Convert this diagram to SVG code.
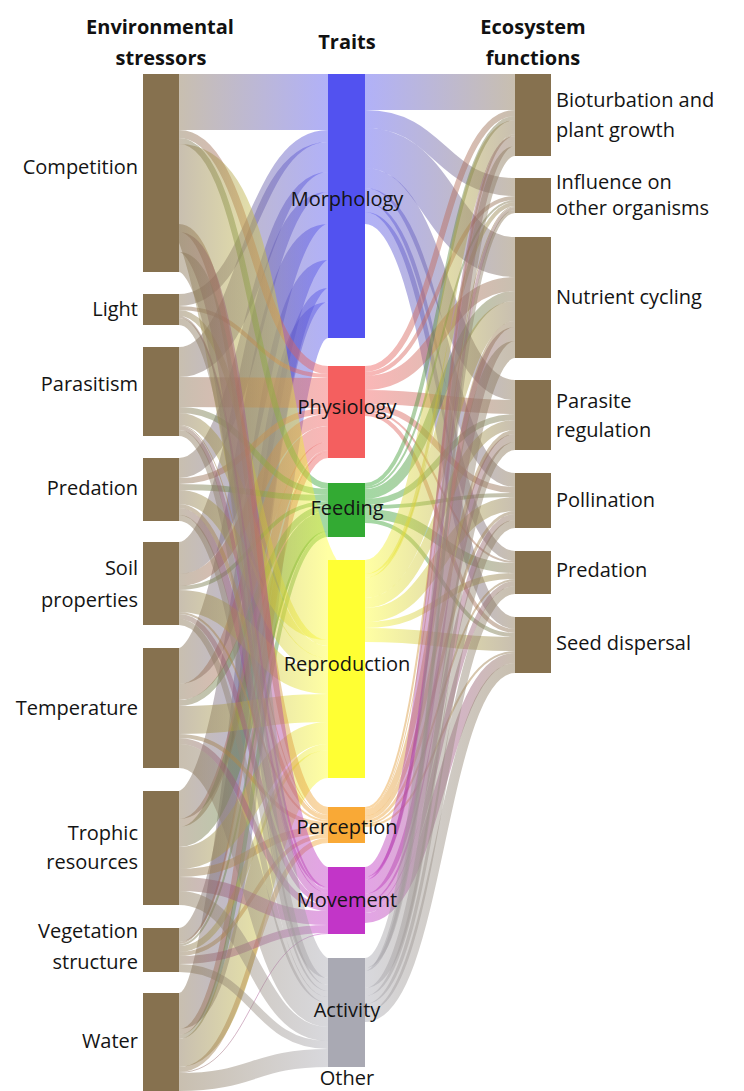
<svg xmlns="http://www.w3.org/2000/svg" width="744" height="1091" viewBox="0 0 744 1091">
<style>
.lk path{fill:none;stroke-opacity:.45}
.n{fill:#86714f}
text{font-family:"Open Sans","Liberation Sans",sans-serif;font-size:20px;fill:#141414}
.h{font-weight:bold;text-anchor:middle;fill:#111}
.le{text-anchor:end}
.m{text-anchor:middle}
</style>
<defs>
<linearGradient id="lM" gradientUnits="userSpaceOnUse" x1="179" y1="0" x2="328" y2="0"><stop offset="0" stop-color="#86714f"/><stop offset="1" stop-color="#5252f0"/></linearGradient>
<linearGradient id="lP" gradientUnits="userSpaceOnUse" x1="179" y1="0" x2="328" y2="0"><stop offset="0" stop-color="#86714f"/><stop offset="1" stop-color="#f45f5f"/></linearGradient>
<linearGradient id="lF" gradientUnits="userSpaceOnUse" x1="179" y1="0" x2="328" y2="0"><stop offset="0" stop-color="#86714f"/><stop offset="1" stop-color="#33aa33"/></linearGradient>
<linearGradient id="lR" gradientUnits="userSpaceOnUse" x1="179" y1="0" x2="328" y2="0"><stop offset="0" stop-color="#86714f"/><stop offset="1" stop-color="#ffff33"/></linearGradient>
<linearGradient id="lPe" gradientUnits="userSpaceOnUse" x1="179" y1="0" x2="328" y2="0"><stop offset="0" stop-color="#86714f"/><stop offset="1" stop-color="#f9a936"/></linearGradient>
<linearGradient id="lMv" gradientUnits="userSpaceOnUse" x1="179" y1="0" x2="328" y2="0"><stop offset="0" stop-color="#86714f"/><stop offset="1" stop-color="#c235c8"/></linearGradient>
<linearGradient id="lA" gradientUnits="userSpaceOnUse" x1="179" y1="0" x2="328" y2="0"><stop offset="0" stop-color="#86714f"/><stop offset="1" stop-color="#a9a9b3"/></linearGradient>
<linearGradient id="rM" gradientUnits="userSpaceOnUse" x1="365" y1="0" x2="515" y2="0"><stop offset="0" stop-color="#5252f0"/><stop offset="1" stop-color="#86714f"/></linearGradient>
<linearGradient id="rP" gradientUnits="userSpaceOnUse" x1="365" y1="0" x2="515" y2="0"><stop offset="0" stop-color="#f45f5f"/><stop offset="1" stop-color="#86714f"/></linearGradient>
<linearGradient id="rF" gradientUnits="userSpaceOnUse" x1="365" y1="0" x2="515" y2="0"><stop offset="0" stop-color="#33aa33"/><stop offset="1" stop-color="#86714f"/></linearGradient>
<linearGradient id="rR" gradientUnits="userSpaceOnUse" x1="365" y1="0" x2="515" y2="0"><stop offset="0" stop-color="#ffff33"/><stop offset="1" stop-color="#86714f"/></linearGradient>
<linearGradient id="rPe" gradientUnits="userSpaceOnUse" x1="365" y1="0" x2="515" y2="0"><stop offset="0" stop-color="#f9a936"/><stop offset="1" stop-color="#86714f"/></linearGradient>
<linearGradient id="rMv" gradientUnits="userSpaceOnUse" x1="365" y1="0" x2="515" y2="0"><stop offset="0" stop-color="#c235c8"/><stop offset="1" stop-color="#86714f"/></linearGradient>
<linearGradient id="rA" gradientUnits="userSpaceOnUse" x1="365" y1="0" x2="515" y2="0"><stop offset="0" stop-color="#a9a9b3"/><stop offset="1" stop-color="#86714f"/></linearGradient>
</defs>
<rect width="744" height="1091" fill="#fff"/>
<g id="connectors" class="lk">
<g stroke="url(#lM)">
<path d="M179,102C253.5,102 253.5,102 328,102" stroke-width="56"/>
<path d="M179,300C253.5,300 253.5,136 328,136" stroke-width="12"/>
<path d="M179,362C253.5,362 253.5,157 328,157" stroke-width="30"/>
<path d="M179,468C253.5,468 253.5,182 328,182" stroke-width="20"/>
<path d="M179,558C253.5,558 253.5,208 328,208" stroke-width="32"/>
<path d="M179,666C253.5,666 253.5,242 328,242" stroke-width="36"/>
<path d="M179,805C253.5,805 253.5,274 328,274" stroke-width="28"/>
<path d="M179,935C253.5,935 253.5,295 328,295" stroke-width="14"/>
<path d="M179,1011C253.5,1011 253.5,320 328,320" stroke-width="36"/>
</g>
<g stroke="url(#lP)">
<path d="M179,134C253.5,134 253.5,370 328,370" stroke-width="8"/>
<path d="M179,308C253.5,308 253.5,376 328,376" stroke-width="4"/>
<path d="M179,392C253.5,392 253.5,393 328,393" stroke-width="30"/>
<path d="M179,481C253.5,481 253.5,411 328,411" stroke-width="6"/>
<path d="M179,580C253.5,580 253.5,420 328,420" stroke-width="12"/>
<path d="M179,692C253.5,692 253.5,434 328,434" stroke-width="16"/>
<path d="M179,823C253.5,823 253.5,446 328,446" stroke-width="8"/>
<path d="M179,943C253.5,943 253.5,451 328,451" stroke-width="2"/>
<path d="M179,1032C253.5,1032 253.5,455 328,455" stroke-width="6"/>
</g>
<g stroke="url(#lF)">
<path d="M179,141C253.5,141 253.5,486 328,486" stroke-width="6"/>
<path d="M179,410C253.5,410 253.5,492 328,492" stroke-width="6"/>
<path d="M179,487C253.5,487 253.5,498 328,498" stroke-width="6"/>
<path d="M179,588C253.5,588 253.5,503 328,503" stroke-width="4"/>
<path d="M179,703C253.5,703 253.5,508 328,508" stroke-width="6"/>
<path d="M179,837C253.5,837 253.5,521 328,521" stroke-width="20"/>
<path d="M179,945C253.5,945 253.5,532 328,532" stroke-width="2"/>
<path d="M179,1037C253.5,1037 253.5,535 328,535" stroke-width="4"/>
</g>
<g stroke="url(#lR)">
<path d="M179,184C253.5,184 253.5,600 328,600" stroke-width="80"/>
<path d="M179,313C253.5,313 253.5,643 328,643" stroke-width="6"/>
<path d="M179,419C253.5,419 253.5,652 328,652" stroke-width="12"/>
<path d="M179,497C253.5,497 253.5,665 328,665" stroke-width="14"/>
<path d="M179,601C253.5,601 253.5,683 328,683" stroke-width="22"/>
<path d="M179,720C253.5,720 253.5,708 328,708" stroke-width="28"/>
<path d="M179,858C253.5,858 253.5,733 328,733" stroke-width="22"/>
<path d="M179,949C253.5,949 253.5,747 328,747" stroke-width="6"/>
<path d="M179,1053C253.5,1053 253.5,764 328,764" stroke-width="28"/>
</g>
<g stroke="url(#lPe)">
<path d="M179,228C253.5,228 253.5,811 328,811" stroke-width="8"/>
<path d="M179,425.5C253.5,425.5 253.5,815.5 328,815.5" stroke-width="1"/>
<path d="M179,506C253.5,506 253.5,818 328,818" stroke-width="4"/>
<path d="M179,613C253.5,613 253.5,821 328,821" stroke-width="2"/>
<path d="M179,736C253.5,736 253.5,824 328,824" stroke-width="4"/>
<path d="M179,873C253.5,873 253.5,830 328,830" stroke-width="8"/>
<path d="M179,954C253.5,954 253.5,836 328,836" stroke-width="4"/>
<path d="M179,1069.5C253.5,1069.5 253.5,840.5 328,840.5" stroke-width="5"/>
</g>
<g stroke="url(#lMv)">
<path d="M179,242C253.5,242 253.5,877 328,877" stroke-width="20"/>
<path d="M179,317C253.5,317 253.5,888 328,888" stroke-width="2"/>
<path d="M179,428C253.5,428 253.5,891 328,891" stroke-width="4"/>
<path d="M179,511.5C253.5,511.5 253.5,896.5 328,896.5" stroke-width="7"/>
<path d="M179,616.5C253.5,616.5 253.5,902.5 328,902.5" stroke-width="5"/>
<path d="M179,741C253.5,741 253.5,908 328,908" stroke-width="6"/>
<path d="M179,884C253.5,884 253.5,918 328,918" stroke-width="14"/>
<path d="M179,960C253.5,960 253.5,929 328,929" stroke-width="8"/>
<path d="M179,1072.5C253.5,1072.5 253.5,933.5 328,933.5" stroke-width="1"/>
</g>
<g stroke="url(#lA)">
<path d="M179,262C253.5,262 253.5,968 328,968" stroke-width="20"/>
<path d="M179,321.5C253.5,321.5 253.5,981.5 328,981.5" stroke-width="7"/>
<path d="M179,433C253.5,433 253.5,988 328,988" stroke-width="6"/>
<path d="M179,518C253.5,518 253.5,994 328,994" stroke-width="6"/>
<path d="M179,622C253.5,622 253.5,1000 328,1000" stroke-width="6"/>
<path d="M179,756C253.5,756 253.5,1015 328,1015" stroke-width="24"/>
<path d="M179,898C253.5,898 253.5,1034 328,1034" stroke-width="14"/>
<path d="M179,968C253.5,968 253.5,1045 328,1045" stroke-width="8"/>
<path d="M179,1082C253.5,1082 253.5,1058 328,1058" stroke-width="18"/>
</g>
<g stroke="url(#rM)">
<path d="M365,92C440,92 440,92 515,92" stroke-width="36"/>
<path d="M365,119C440,119 440,187 515,187" stroke-width="18"/>
<path d="M365,148C440,148 440,257 515,257" stroke-width="40"/>
<path d="M365,178C440,178 440,390 515,390" stroke-width="20"/>
<path d="M365,195C440,195 440,480 515,480" stroke-width="14"/>
<path d="M365,207C440,207 440,556 515,556" stroke-width="10"/>
<path d="M365,218C440,218 440,623 515,623" stroke-width="12"/>
</g>
<g stroke="url(#rP)">
<path d="M365,369C440,369 440,113 515,113" stroke-width="6"/>
<path d="M365,374C440,374 440,198 515,198" stroke-width="4"/>
<path d="M365,383C440,383 440,284 515,284" stroke-width="14"/>
<path d="M365,397C440,397 440,407 515,407" stroke-width="14"/>
<path d="M365,407C440,407 440,490 515,490" stroke-width="6"/>
<path d="M365,411C440,411 440,562 515,562" stroke-width="2"/>
<path d="M365,414C440,414 440,631 515,631" stroke-width="4"/>
</g>
<g stroke="url(#rF)">
<path d="M365,485C440,485 440,118 515,118" stroke-width="4"/>
<path d="M365,488C440,488 440,201 515,201" stroke-width="2"/>
<path d="M365,494C440,494 440,296 515,296" stroke-width="10"/>
<path d="M365,502C440,502 440,417 515,417" stroke-width="6"/>
<path d="M365,507C440,507 440,495 515,495" stroke-width="4"/>
<path d="M365,514C440,514 440,568 515,568" stroke-width="10"/>
<path d="M365,521C440,521 440,635 515,635" stroke-width="4"/>
</g>
<g stroke="url(#rR)">
<path d="M365,567C440,567 440,127 515,127" stroke-width="14"/>
<path d="M365,576C440,576 440,204 515,204" stroke-width="4"/>
<path d="M365,588C440,588 440,311 515,311" stroke-width="20"/>
<path d="M365,603C440,603 440,425 515,425" stroke-width="10"/>
<path d="M365,615C440,615 440,504 515,504" stroke-width="14"/>
<path d="M365,625C440,625 440,576 515,576" stroke-width="6"/>
<path d="M365,635C440,635 440,644 515,644" stroke-width="14"/>
</g>
<g stroke="url(#rPe)">
<path d="M365,808C440,808 440,135 515,135" stroke-width="2"/>
<path d="M365,809.5C440,809.5 440,206.5 515,206.5" stroke-width="1"/>
<path d="M365,813C440,813 440,324 515,324" stroke-width="6"/>
<path d="M365,818C440,818 440,432 515,432" stroke-width="4"/>
<path d="M365,821.5C440,821.5 440,512.5 515,512.5" stroke-width="3"/>
<path d="M365,824C440,824 440,580 515,580" stroke-width="2"/>
<path d="M365,826C440,826 440,652 515,652" stroke-width="2"/>
</g>
<g stroke="url(#rMv)">
<path d="M365,872C440,872 440,141 515,141" stroke-width="10"/>
<path d="M365,878.5C440,878.5 440,208.5 515,208.5" stroke-width="3"/>
<path d="M365,887C440,887 440,334 515,334" stroke-width="14"/>
<path d="M365,898C440,898 440,438 515,438" stroke-width="8"/>
<path d="M365,905C440,905 440,517 515,517" stroke-width="6"/>
<path d="M365,910.5C440,910.5 440,583.5 515,583.5" stroke-width="5"/>
<path d="M365,918C440,918 440,658 515,658" stroke-width="10"/>
</g>
<g stroke="url(#rA)">
<path d="M365,963C440,963 440,151 515,151" stroke-width="10"/>
<path d="M365,969.5C440,969.5 440,211.5 515,211.5" stroke-width="3"/>
<path d="M365,979.5C440,979.5 440,349.5 515,349.5" stroke-width="17"/>
<path d="M365,992C440,992 440,446 515,446" stroke-width="8"/>
<path d="M365,1000C440,1000 440,524 515,524" stroke-width="8"/>
<path d="M365,1008C440,1008 440,590 515,590" stroke-width="8"/>
<path d="M365,1017C440,1017 440,668 515,668" stroke-width="10"/>
</g>
</g>
<g id="headers">
<text class="h" x="160" y="34">Environmental</text>
<text class="h" x="161" y="65">stressors</text>
<text class="h" x="347" y="49">Traits</text>
<text class="h" x="533" y="34">Ecosystem</text>
<text class="h" x="533" y="65">functions</text>
</g>
<g id="s-competition"><rect class="n" x="143" y="74" width="36" height="198"/><text class="le" x="138" y="174">Competition</text></g>
<g id="s-light"><rect class="n" x="143" y="294" width="36" height="31"/><text class="le" x="138" y="316">Light</text></g>
<g id="s-parasitism"><rect class="n" x="143" y="347" width="36" height="89"/><text class="le" x="138" y="391">Parasitism</text></g>
<g id="s-predation"><rect class="n" x="143" y="458" width="36" height="63"/><text class="le" x="138" y="495">Predation</text></g>
<g id="s-soil"><rect class="n" x="143" y="542" width="36" height="83"/><text class="le" x="138" y="575">Soil</text><text class="le" x="138" y="607">properties</text></g>
<g id="s-temperature"><rect class="n" x="143" y="648" width="36" height="120"/><text class="le" x="138" y="715">Temperature</text></g>
<g id="s-trophic"><rect class="n" x="143" y="791" width="36" height="114"/><text class="le" x="138" y="840">Trophic</text><text class="le" x="138" y="869">resources</text></g>
<g id="s-vegetation"><rect class="n" x="143" y="928" width="36" height="44"/><text class="le" x="138" y="938">Vegetation</text><text class="le" x="138" y="969">structure</text></g>
<g id="s-water"><rect class="n" x="143" y="993" width="36" height="98"/><text class="le" x="138" y="1048">Water</text></g>
<g id="t-morphology"><rect x="328" y="74" width="37" height="264" fill="#5252f0"/><text class="m" x="347" y="206">Morphology</text></g>
<g id="t-physiology"><rect x="328" y="366" width="37" height="92" fill="#f45f5f"/><text class="m" x="347" y="414">Physiology</text></g>
<g id="t-feeding"><rect x="328" y="483" width="37" height="54" fill="#33aa33"/><text class="m" x="347" y="515">Feeding</text></g>
<g id="t-reproduction"><rect x="328" y="560" width="37" height="218" fill="#ffff33"/><text class="m" x="347" y="671">Reproduction</text></g>
<g id="t-perception"><rect x="328" y="807" width="37" height="36" fill="#f9a936"/><text class="m" x="347" y="834">Perception</text></g>
<g id="t-movement"><rect x="328" y="867" width="37" height="67" fill="#c235c8"/><text class="m" x="347" y="907">Movement</text></g>
<g id="t-activity"><rect x="328" y="958" width="37" height="109" fill="#a9a9b3"/><text class="m" x="347" y="1017">Activity</text></g>
<g id="t-other"><text class="m" x="347" y="1085">Other</text></g>
<g id="f-bioturbation"><rect class="n" x="515" y="74" width="36" height="82"/><text x="556" y="107">Bioturbation and</text><text x="556" y="137">plant growth</text></g>
<g id="f-influence"><rect class="n" x="515" y="178" width="36" height="35"/><text x="556" y="189">Influence on</text><text x="556" y="215">other organisms</text></g>
<g id="f-nutrient"><rect class="n" x="515" y="237" width="36" height="121"/><text x="556" y="304">Nutrient cycling</text></g>
<g id="f-parasite"><rect class="n" x="515" y="380" width="36" height="70"/><text x="556" y="408">Parasite</text><text x="556" y="437">regulation</text></g>
<g id="f-pollination"><rect class="n" x="515" y="473" width="36" height="55"/><text x="556" y="507">Pollination</text></g>
<g id="f-predation"><rect class="n" x="515" y="551" width="36" height="43"/><text x="556" y="577">Predation</text></g>
<g id="f-seed"><rect class="n" x="515" y="617" width="36" height="56"/><text x="556" y="650">Seed dispersal</text></g>
</svg>
